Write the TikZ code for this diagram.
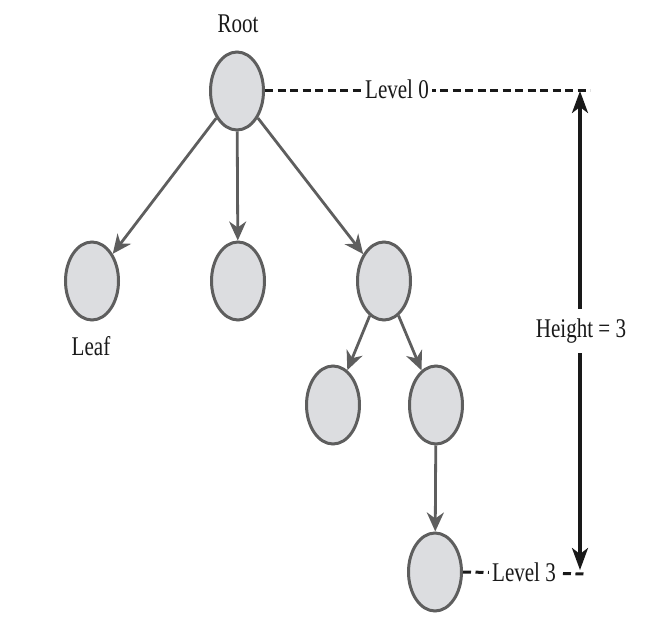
\documentclass[tikz,border=0pt]{standalone}
\usepackage{fontspec}
\setmainfont{Liberation Serif}[FakeStretch=0.78]
\usetikzlibrary{arrows.meta,shapes.geometric}
\definecolor{nodefill}{HTML}{DCDDE0}
\definecolor{nodeline}{HTML}{5E5E5E}
\tikzset{
  treenode/.style={ellipse, draw=nodeline, fill=nodefill, line width=3pt,
    minimum width=53pt, minimum height=78pt, inner sep=0pt},
  edge/.style={draw=nodeline, line width=2.8pt,
    -{Stealth[length=19pt,width=17pt,inset=6pt]}},
  levelline/.style={draw=black!90, line width=3pt, dash pattern=on 8pt off 4.5pt},
  lbl/.style={font=\fontsize{27}{29}\selectfont, text=black!90},
  gaplbl/.style={lbl, fill=white, inner sep=3pt},
  heightarrow/.style={draw=black!90, line width=3.2pt,
    {Stealth[length=22pt,width=16pt,inset=6pt]}-{Stealth[length=22pt,width=16pt,inset=6pt]}}
}
\begin{document}
\begin{tikzpicture}[x=1pt,y=-1pt]
  \useasboundingbox (0,0) rectangle (670,623);

  % tree nodes
  \node[treenode] (root) at (237,91) {};
  \node[treenode] (leaf) at (92,281) {};
  \node[treenode] (mid)  at (238,281) {};
  \node[treenode] (rgt)  at (384,281) {};
  \node[treenode] (rl)   at (333,405) {};
  \node[treenode] (rr)   at (436,405) {};
  \node[treenode] (deep) at (435,572) {};

  % labels
  \node[lbl] (rootlbl) at (238,24) {Root};
  \node[lbl] (leaflbl) at (91,346) {Leaf};

  % parent -> child connectors
  \draw[edge] (root) -- (leaf);
  \draw[edge] (root) -- (mid);
  \draw[edge] (root) -- (rgt);
  \draw[edge] (rgt) -- (rl);
  \draw[edge] (rgt) -- (rr);
  \draw[edge] (rr) -- (deep);

  % level markers
  \coordinate (l0end) at (590,91);
  \coordinate (l3end) at (587,574);
  \draw[levelline] (root.east) -- (l0end);
  \node[gaplbl] (l0lbl) at (397,89) {Level 0};
  \draw[levelline] (deep.east) -- (l3end);
  \node[gaplbl] (l3lbl) at (524,572) {Level 3};

  % height measurement
  \coordinate (htop) at (580,91);
  \coordinate (hbot) at (580,570);
  \draw[heightarrow] (htop) -- (hbot);
  \node[gaplbl, inner ysep=10pt] (hlbl) at (581,331) {Height = 3};
\end{tikzpicture}
\end{document}
